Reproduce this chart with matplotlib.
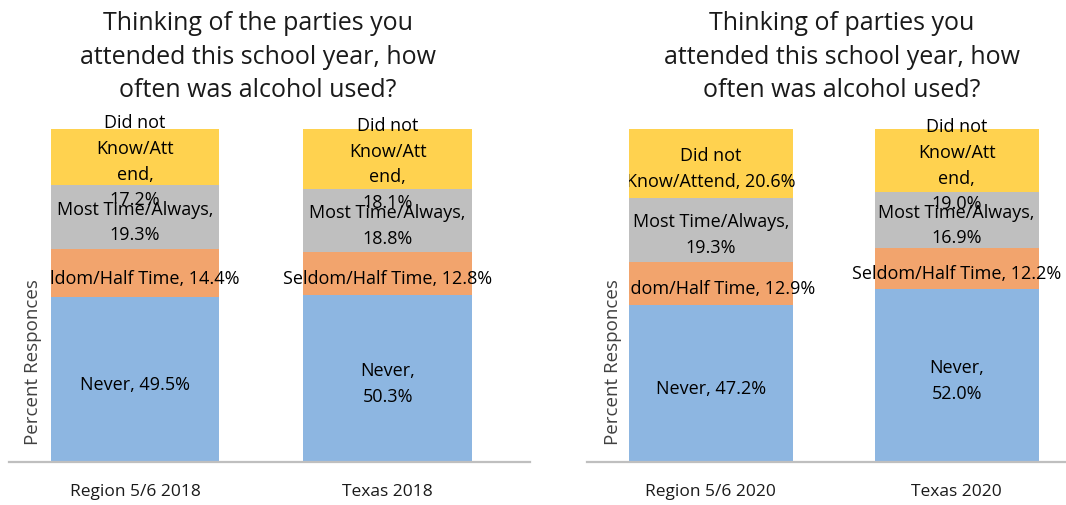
import matplotlib
matplotlib.use("Agg")
import matplotlib.pyplot as plt
import matplotlib.transforms as mtransforms
from matplotlib.patches import Rectangle

# ---------------- data ----------------
series = ["Never", "Seldom/Half Time", "Most Time/Always", "Did not Know/Attend"]
colors = ["#8DB6E1", "#F2A46D", "#BFBFBF", "#FFD24F"]

titles = ["Thinking of the parties you\nattended this school year, how\noften was alcohol used?",
          "Thinking of parties you\nattended this school year, how\noften was alcohol used?"]

cats_2018 = ["Region 5/6 2018", "Texas 2018"]
never_2018 = [49.5, 50.3]
seldom_2018 = [14.4, 12.8]
most_2018 = [19.3, 18.8]
dnk_2018 = [17.2, 18.1]

cats_2020 = ["Region 5/6 2020", "Texas 2020"]
never_2020 = [47.2, 52.0]
seldom_2020 = [12.9, 12.2]
most_2020 = [19.3, 16.9]
dnk_2020 = [20.6, 19.0]

# wrapped category names as shown in the data labels (per bar)
lbl_names_2018 = [["Never,", "Seldom/Half Time,", "Most Time/Always,\n", "Did not\nKnow/Att\nend,\n"],
                  ["Never,\n", "Seldom/Half Time,", "Most Time/Always,\n", "Did not\nKnow/Att\nend,\n"]]
lbl_names_2020 = [["Never,", "Seldom/Half Time,", "Most Time/Always,\n", "Did not\nKnow/Attend,"],
                  ["Never,\n", "Seldom/Half Time,", "Most Time/Always,\n", "Did not\nKnow/Att\nend,\n"]]

ylabel = "Percent Responces"

# ---------------- figure ----------------
W, H = 1066, 506
fig = plt.figure(figsize=(W / 100, H / 100), dpi=100)
FONT = "Open Sans"
TXT = "#1a1a1a"


def px_axes(x0, x1, ytop, ybot):
    return fig.add_axes([x0 / W, 1 - ybot / H, (x1 - x0) / W, (ybot - ytop) / H])


panels = [
    dict(ax=px_axes(9, 530, 130, 463), xlim=(-0.499, 1.564), cats=cats_2018,
         vals=[never_2018, seldom_2018, most_2018, dnk_2018], names=lbl_names_2018,
         title=titles[0], tx=258, ylx=33),
    dict(ax=px_axes(587, 1104, 130, 463), xlim=(-0.504, 1.6), cats=cats_2020,
         vals=[never_2020, seldom_2020, most_2020, dnk_2020], names=lbl_names_2020,
         title=titles[1], tx=842, ylx=613),
]

bw = 0.667
shift = mtransforms.ScaledTranslation(0, -4.5 / 100, fig.dpi_scale_trans)
for p in panels:
    ax = p["ax"]
    x = list(range(len(p["cats"])))
    bottoms = [0.0] * len(x)
    bars_all = []
    for si, (vals, col) in enumerate(zip(p["vals"], colors)):
        bars = ax.bar(x, vals, bw, bottom=bottoms, color=col, edgecolor="none",
                      label=series[si], zorder=2)
        bars_all.append(bars)
        for bi, (b, v) in enumerate(zip(bars, vals)):
            name = p["names"][bi][si]
            sep = "" if name.endswith("\n") else " "
            txt = f"{name}{sep}{v:.1f}%"
            cy = bottoms[bi] + v / 2
            t = ax.text(b.get_x() + b.get_width() / 2, cy, txt, ha="center", va="center",
                        fontsize=13, family=FONT, color="black", linespacing=1.55,
                        zorder=5, multialignment="center",
                        transform=ax.transData + shift)
            # labels are cut at the left edge of the first bar (axis-title box)
            first = bars_all[0][0]
            clip = Rectangle((first.get_x(), -100), 10, 400, transform=ax.transData)
            t.set_clip_path(clip)
            t.set_clip_on(True)
        bottoms = [b0 + v for b0, v in zip(bottoms, vals)]

    ax.set_xlim(*p["xlim"])
    ax.set_ylim(0, 100)
    for s in ["top", "right", "left"]:
        ax.spines[s].set_visible(False)
    ax.spines["bottom"].set_color("#BFBFBF")
    ax.spines["bottom"].set_linewidth(1.6)
    ax.spines["bottom"].set_zorder(3)
    ax.set_yticks([])
    ax.set_xticks(x)
    ax.set_xticklabels(p["cats"], fontsize=12.5, family=FONT, color=TXT)
    ax.tick_params(axis="x", length=0, pad=15)
    ax.patch.set_visible(False)

    fig.text(p["tx"] / W, 1 - 57 / H, p["title"], ha="center", va="center",
             fontsize=18, family=FONT, color=TXT, linespacing=1.45)
    fig.text(p["ylx"] / W, 1 - 362 / H, ylabel, rotation=90, ha="center", va="center",
             fontsize=13.5, family=FONT, color="#404040")

fig.savefig("out.png", dpi=100)
